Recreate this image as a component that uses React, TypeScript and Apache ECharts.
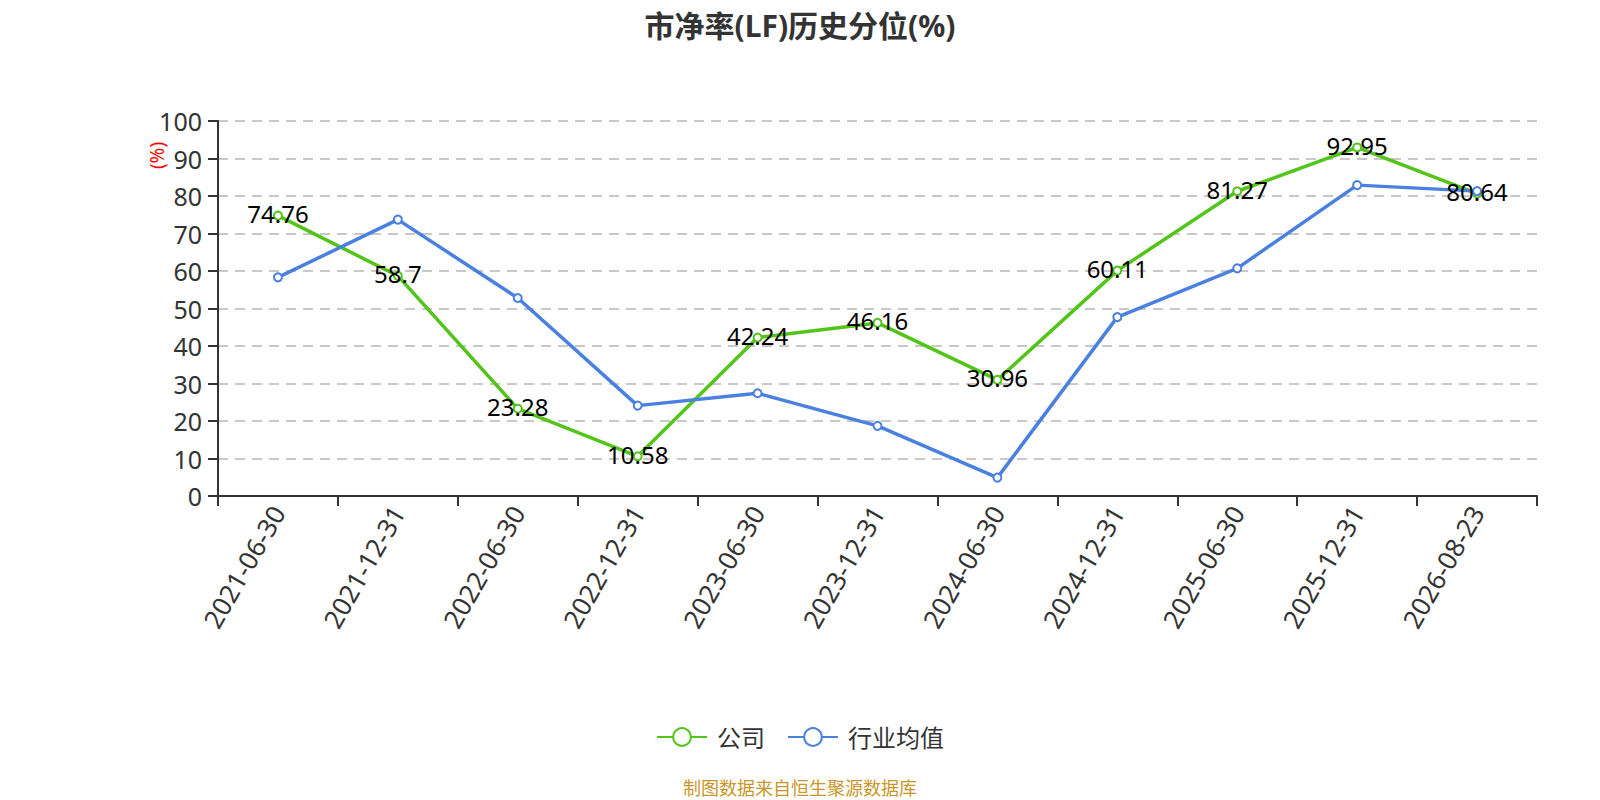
import React, { useEffect, useRef } from "react";
import * as echarts from "echarts";

const categories = [
  "2021-06-30", "2021-12-31", "2022-06-30", "2022-12-31", "2023-06-30", "2023-12-31",
  "2024-06-30", "2024-12-31", "2025-06-30", "2025-12-31", "2026-08-23",
];
const companyValues = [74.76, 58.7, 23.28, 10.58, 42.24, 46.16, 30.96, 60.11, 81.27, 92.95, 80.64];
const industryValues = [58.3, 73.7, 52.8, 24.1, 27.4, 18.7, 4.9, 47.7, 60.7, 82.9, 81.3];
const seriesNames = ["公司", "行业均值"];
const titleText = "市净率(LF)历史分位(%)";
const sourceText = "制图数据来自恒生聚源数据库";
const yAxisName = "(%)";

const FONT = '"Noto Sans", "Noto Sans CJK SC", sans-serif';

export default function App() {
  const ref = useRef<HTMLDivElement>(null);
  useEffect(() => {
    if (!ref.current) return;
    const chart = echarts.init(ref.current, undefined, { renderer: "svg" });
    chart.setOption({
      animation: false,
      textStyle: { fontFamily: FONT },
      title: [
        {
          text: titleText,
          left: "center",
          top: 5,
          textStyle: { fontSize: 30, fontWeight: "bold", color: "#333", fontFamily: FONT },
        },
        {
          text: sourceText,
          left: "center",
          top: 779,
          padding: 0,
          textStyle: { fontSize: 18, fontWeight: "normal", color: "#c9962a", fontFamily: FONT },
        },
      ],
      graphic: [
        {
          type: "text",
          x: 157,
          y: 155.5,
          rotation: Math.PI / 2,
          style: {
            text: yAxisName,
            fill: "#ff0000",
            fontSize: 19,
            fontFamily: FONT,
            align: "center",
            verticalAlign: "middle",
          },
        },
      ],
      legend: {
        top: 725,
        left: "center",
        itemWidth: 50,
        itemHeight: 22,
        itemGap: 22,
        padding: 0,
        textStyle: { fontSize: 24, color: "#333", fontFamily: FONT, padding: [0, 0, 0, 5] },
        data: seriesNames,
      },
      grid: { left: 218, right: 63, top: 121, bottom: 304, containLabel: false },
      xAxis: {
        type: "category",
        data: categories,
        boundaryGap: true,
        axisLine: { lineStyle: { color: "#333", width: 2 } },
        axisTick: { show: true, length: 10, lineStyle: { color: "#333", width: 2 } },
        axisLabel: { rotate: 60, fontSize: 26, color: "#333", margin: 12, interval: 0, fontFamily: FONT },
      },
      yAxis: {
        type: "value",
        min: 0,
        max: 100,
        interval: 10,
        axisLine: { show: true, lineStyle: { color: "#333", width: 2 } },
        axisTick: { show: true, length: 10, lineStyle: { color: "#333", width: 2 } },
        axisLabel: { fontSize: 25, color: "#333", margin: 16, fontFamily: FONT },
        splitLine: { show: true, lineStyle: { color: "#c8c8c8", type: [10, 7], width: 2 } },
      },
      series: [
        {
          name: seriesNames[0],
          type: "line",
          data: companyValues,
          symbol: "emptyCircle",
          symbolSize: 8,
          itemStyle: { color: "#52c41a", borderWidth: 2 },
          lineStyle: { width: 3.5, color: "#52c41a" },
          label: {
            show: true,
            position: "inside",
            offset: [0, -2],
            fontSize: 24,
            color: "#000",
            fontFamily: FONT,
          },
        },
        {
          name: seriesNames[1],
          type: "line",
          data: industryValues,
          symbol: "emptyCircle",
          symbolSize: 8,
          itemStyle: { color: "#4a80e0", borderWidth: 2 },
          lineStyle: { width: 3.5, color: "#4a80e0" },
        },
      ],
    });
    return () => chart.dispose();
  }, []);
  return (
    <div
      ref={ref}
      style={{ position: "absolute", left: 0, top: 0, width: 1600, height: 800, background: "#fff" }}
    />
  );
}
